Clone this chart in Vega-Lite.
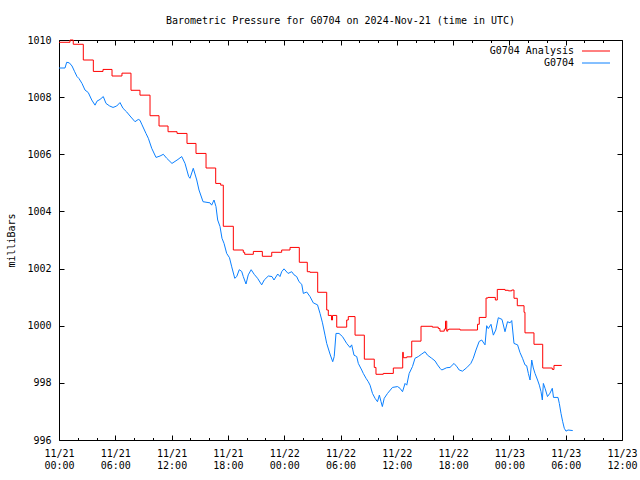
{
  "$schema": "https://vega.github.io/schema/vega-lite/v6.json",
  "width": 563,
  "height": 400,
  "autosize": {"type": "none"},
  "padding": {"left": 59, "top": 40, "right": 18, "bottom": 40},
  "background": "white",
  "config": {
    "font": "DejaVu Sans Mono",
    "view": {"stroke": "black", "strokeWidth": 1},
    "axis": {"domain": false, "grid": false, "labelFont": "DejaVu Sans Mono", "labelFontSize": 10, "labelColor": "black", "tickColor": "black", "tickWidth": 1, "titleFont": "DejaVu Sans Mono", "titleFontSize": 10, "titleFontWeight": "normal", "titleColor": "black"}
  },
  "title": {"text": "Barometric Pressure for G0704 on 2024-Nov-21 (time in UTC)", "font": "DejaVu Sans Mono", "fontSize": 10, "fontWeight": "normal", "color": "black", "anchor": "middle", "offset": 9},
  "datasets": {
    "analysis": [
      {"hour": 0, "mb": 1009.92, "series": "G0704 Analysis"},
      {"hour": 1.17, "mb": 1010.0, "series": "G0704 Analysis"},
      {"hour": 1.52, "mb": 1009.85, "series": "G0704 Analysis"},
      {"hour": 2.59, "mb": 1009.3, "series": "G0704 Analysis"},
      {"hour": 3.66, "mb": 1008.9, "series": "G0704 Analysis"},
      {"hour": 4.69, "mb": 1008.97, "series": "G0704 Analysis"},
      {"hour": 5.65, "mb": 1008.74, "series": "G0704 Analysis"},
      {"hour": 6.71, "mb": 1008.84, "series": "G0704 Analysis"},
      {"hour": 7.67, "mb": 1008.24, "series": "G0704 Analysis"},
      {"hour": 8.63, "mb": 1008.07, "series": "G0704 Analysis"},
      {"hour": 9.7, "mb": 1007.35, "series": "G0704 Analysis"},
      {"hour": 10.66, "mb": 1006.99, "series": "G0704 Analysis"},
      {"hour": 11.62, "mb": 1006.79, "series": "G0704 Analysis"},
      {"hour": 12.58, "mb": 1006.73, "series": "G0704 Analysis"},
      {"hour": 13.64, "mb": 1006.38, "series": "G0704 Analysis"},
      {"hour": 14.6, "mb": 1006.03, "series": "G0704 Analysis"},
      {"hour": 15.67, "mb": 1005.52, "series": "G0704 Analysis"},
      {"hour": 16.7, "mb": 1004.98, "series": "G0704 Analysis"},
      {"hour": 17.23, "mb": 1004.92, "series": "G0704 Analysis"},
      {"hour": 17.51, "mb": 1003.48, "series": "G0704 Analysis"},
      {"hour": 18.58, "mb": 1002.65, "series": "G0704 Analysis"},
      {"hour": 19.64, "mb": 1002.57, "series": "G0704 Analysis"},
      {"hour": 19.79, "mb": 1002.5, "series": "G0704 Analysis"},
      {"hour": 20.71, "mb": 1002.6, "series": "G0704 Analysis"},
      {"hour": 21.67, "mb": 1002.43, "series": "G0704 Analysis"},
      {"hour": 22.67, "mb": 1002.57, "series": "G0704 Analysis"},
      {"hour": 23.73, "mb": 1002.65, "series": "G0704 Analysis"},
      {"hour": 24.62, "mb": 1002.74, "series": "G0704 Analysis"},
      {"hour": 25.61, "mb": 1002.22, "series": "G0704 Analysis"},
      {"hour": 26.46, "mb": 1001.89, "series": "G0704 Analysis"},
      {"hour": 26.75, "mb": 1001.87, "series": "G0704 Analysis"},
      {"hour": 27.57, "mb": 1001.17, "series": "G0704 Analysis"},
      {"hour": 28.53, "mb": 1000.55, "series": "G0704 Analysis"},
      {"hour": 28.7, "mb": 1000.36, "series": "G0704 Analysis"},
      {"hour": 29.04, "mb": 1000.2, "series": "G0704 Analysis"},
      {"hour": 29.15, "mb": 1000.36, "series": "G0704 Analysis"},
      {"hour": 29.6, "mb": 999.95, "series": "G0704 Analysis"},
      {"hour": 30.66, "mb": 1000.2, "series": "G0704 Analysis"},
      {"hour": 30.83, "mb": 1000.32, "series": "G0704 Analysis"},
      {"hour": 31.55, "mb": 999.67, "series": "G0704 Analysis"},
      {"hour": 32.54, "mb": 998.83, "series": "G0704 Analysis"},
      {"hour": 33.6, "mb": 998.54, "series": "G0704 Analysis"},
      {"hour": 33.78, "mb": 998.3, "series": "G0704 Analysis"},
      {"hour": 34.56, "mb": 998.33, "series": "G0704 Analysis"},
      {"hour": 35.63, "mb": 998.52, "series": "G0704 Analysis"},
      {"hour": 36.63, "mb": 999.07, "series": "G0704 Analysis"},
      {"hour": 36.69, "mb": 998.88, "series": "G0704 Analysis"},
      {"hour": 37.06, "mb": 998.91, "series": "G0704 Analysis"},
      {"hour": 37.59, "mb": 999.46, "series": "G0704 Analysis"},
      {"hour": 38.58, "mb": 999.98, "series": "G0704 Analysis"},
      {"hour": 39.79, "mb": 999.95, "series": "G0704 Analysis"},
      {"hour": 40.42, "mb": 999.9, "series": "G0704 Analysis"},
      {"hour": 40.6, "mb": 999.81, "series": "G0704 Analysis"},
      {"hour": 41.06, "mb": 999.88, "series": "G0704 Analysis"},
      {"hour": 41.19, "mb": 1000.16, "series": "G0704 Analysis"},
      {"hour": 41.32, "mb": 999.81, "series": "G0704 Analysis"},
      {"hour": 41.43, "mb": 999.87, "series": "G0704 Analysis"},
      {"hour": 41.56, "mb": 999.88, "series": "G0704 Analysis"},
      {"hour": 42.74, "mb": 999.85, "series": "G0704 Analysis"},
      {"hour": 44.6, "mb": 1000.05, "series": "G0704 Analysis"},
      {"hour": 44.79, "mb": 1000.29, "series": "G0704 Analysis"},
      {"hour": 45.51, "mb": 1000.97, "series": "G0704 Analysis"},
      {"hour": 45.72, "mb": 1000.99, "series": "G0704 Analysis"},
      {"hour": 46.5, "mb": 1000.9, "series": "G0704 Analysis"},
      {"hour": 46.71, "mb": 1001.27, "series": "G0704 Analysis"},
      {"hour": 47.53, "mb": 1001.24, "series": "G0704 Analysis"},
      {"hour": 47.89, "mb": 1001.22, "series": "G0704 Analysis"},
      {"hour": 48.25, "mb": 1001.25, "series": "G0704 Analysis"},
      {"hour": 48.49, "mb": 1000.96, "series": "G0704 Analysis"},
      {"hour": 48.84, "mb": 1000.7, "series": "G0704 Analysis"},
      {"hour": 49.56, "mb": 1000.47, "series": "G0704 Analysis"},
      {"hour": 49.66, "mb": 999.75, "series": "G0704 Analysis"},
      {"hour": 50.62, "mb": 999.35, "series": "G0704 Analysis"},
      {"hour": 51.55, "mb": 998.52, "series": "G0704 Analysis"},
      {"hour": 52.57, "mb": 998.47, "series": "G0704 Analysis"},
      {"hour": 52.75, "mb": 998.61, "series": "G0704 Analysis"},
      {"hour": 53.58, "mb": 998.61, "series": "G0704 Analysis"}
    ],
    "obs": [
      {"hour": 0, "mb": 1009.02, "series": "G0704"},
      {"hour": 0.64, "mb": 1009.02, "series": "G0704"},
      {"hour": 0.82, "mb": 1009.22, "series": "G0704"},
      {"hour": 1.1, "mb": 1009.2, "series": "G0704"},
      {"hour": 1.39, "mb": 1009.09, "series": "G0704"},
      {"hour": 1.67, "mb": 1008.89, "series": "G0704"},
      {"hour": 1.92, "mb": 1008.72, "series": "G0704"},
      {"hour": 2.13, "mb": 1008.65, "series": "G0704"},
      {"hour": 2.45, "mb": 1008.48, "series": "G0704"},
      {"hour": 2.77, "mb": 1008.25, "series": "G0704"},
      {"hour": 3.12, "mb": 1008.16, "series": "G0704"},
      {"hour": 3.49, "mb": 1007.9, "series": "G0704"},
      {"hour": 3.84, "mb": 1007.72, "series": "G0704"},
      {"hour": 4.05, "mb": 1007.86, "series": "G0704"},
      {"hour": 4.37, "mb": 1007.92, "series": "G0704"},
      {"hour": 4.72, "mb": 1008.02, "series": "G0704"},
      {"hour": 5.01, "mb": 1007.78, "series": "G0704"},
      {"hour": 5.4, "mb": 1007.69, "series": "G0704"},
      {"hour": 5.76, "mb": 1007.64, "series": "G0704"},
      {"hour": 6.15, "mb": 1007.69, "series": "G0704"},
      {"hour": 6.5, "mb": 1007.81, "series": "G0704"},
      {"hour": 6.82, "mb": 1007.61, "series": "G0704"},
      {"hour": 7.22, "mb": 1007.48, "series": "G0704"},
      {"hour": 7.57, "mb": 1007.34, "series": "G0704"},
      {"hour": 8.1, "mb": 1007.14, "series": "G0704"},
      {"hour": 8.45, "mb": 1007.22, "series": "G0704"},
      {"hour": 8.63, "mb": 1007.19, "series": "G0704"},
      {"hour": 8.85, "mb": 1007.03, "series": "G0704"},
      {"hour": 9.27, "mb": 1006.73, "series": "G0704"},
      {"hour": 9.52, "mb": 1006.56, "series": "G0704"},
      {"hour": 9.88, "mb": 1006.21, "series": "G0704"},
      {"hour": 10.34, "mb": 1005.89, "series": "G0704"},
      {"hour": 10.77, "mb": 1005.94, "series": "G0704"},
      {"hour": 11.12, "mb": 1006.0, "series": "G0704"},
      {"hour": 11.48, "mb": 1005.86, "series": "G0704"},
      {"hour": 12.04, "mb": 1005.68, "series": "G0704"},
      {"hour": 12.68, "mb": 1005.82, "series": "G0704"},
      {"hour": 13.08, "mb": 1005.92, "series": "G0704"},
      {"hour": 13.43, "mb": 1005.68, "series": "G0704"},
      {"hour": 13.82, "mb": 1005.22, "series": "G0704"},
      {"hour": 13.96, "mb": 1005.16, "series": "G0704"},
      {"hour": 14.31, "mb": 1005.51, "series": "G0704"},
      {"hour": 14.68, "mb": 1005.1, "series": "G0704"},
      {"hour": 14.92, "mb": 1004.75, "series": "G0704"},
      {"hour": 15.35, "mb": 1004.34, "series": "G0704"},
      {"hour": 16.09, "mb": 1004.3, "series": "G0704"},
      {"hour": 16.27, "mb": 1004.22, "series": "G0704"},
      {"hour": 16.52, "mb": 1004.4, "series": "G0704"},
      {"hour": 16.73, "mb": 1004.17, "series": "G0704"},
      {"hour": 16.91, "mb": 1003.7, "series": "G0704"},
      {"hour": 17.16, "mb": 1003.47, "series": "G0704"},
      {"hour": 17.37, "mb": 1003.06, "series": "G0704"},
      {"hour": 17.59, "mb": 1002.88, "series": "G0704"},
      {"hour": 17.87, "mb": 1002.53, "series": "G0704"},
      {"hour": 18.17, "mb": 1002.38, "series": "G0704"},
      {"hour": 18.41, "mb": 1002.06, "series": "G0704"},
      {"hour": 18.73, "mb": 1001.66, "series": "G0704"},
      {"hour": 18.94, "mb": 1001.72, "series": "G0704"},
      {"hour": 19.21, "mb": 1001.96, "series": "G0704"},
      {"hour": 19.47, "mb": 1001.9, "series": "G0704"},
      {"hour": 19.64, "mb": 1001.72, "series": "G0704"},
      {"hour": 19.93, "mb": 1001.46, "series": "G0704"},
      {"hour": 20.17, "mb": 1001.78, "series": "G0704"},
      {"hour": 20.48, "mb": 1001.96, "series": "G0704"},
      {"hour": 20.8, "mb": 1001.8, "series": "G0704"},
      {"hour": 21.16, "mb": 1001.66, "series": "G0704"},
      {"hour": 21.6, "mb": 1001.43, "series": "G0704"},
      {"hour": 21.87, "mb": 1001.6, "series": "G0704"},
      {"hour": 22.31, "mb": 1001.74, "series": "G0704"},
      {"hour": 22.7, "mb": 1001.72, "series": "G0704"},
      {"hour": 22.91, "mb": 1001.6, "series": "G0704"},
      {"hour": 23.31, "mb": 1001.81, "series": "G0704"},
      {"hour": 23.55, "mb": 1001.72, "series": "G0704"},
      {"hour": 23.73, "mb": 1001.89, "series": "G0704"},
      {"hour": 23.98, "mb": 1001.99, "series": "G0704"},
      {"hour": 24.41, "mb": 1001.83, "series": "G0704"},
      {"hour": 24.8, "mb": 1001.89, "series": "G0704"},
      {"hour": 25.05, "mb": 1001.78, "series": "G0704"},
      {"hour": 25.33, "mb": 1001.72, "series": "G0704"},
      {"hour": 25.58, "mb": 1001.54, "series": "G0704"},
      {"hour": 25.87, "mb": 1001.45, "series": "G0704"},
      {"hour": 26.04, "mb": 1001.13, "series": "G0704"},
      {"hour": 26.4, "mb": 1001.18, "series": "G0704"},
      {"hour": 26.75, "mb": 1001.02, "series": "G0704"},
      {"hour": 27.1, "mb": 1000.8, "series": "G0704"},
      {"hour": 27.55, "mb": 1000.73, "series": "G0704"},
      {"hour": 27.82, "mb": 1000.43, "series": "G0704"},
      {"hour": 28.08, "mb": 1000.1, "series": "G0704"},
      {"hour": 28.35, "mb": 999.67, "series": "G0704"},
      {"hour": 28.53, "mb": 999.38, "series": "G0704"},
      {"hour": 28.88, "mb": 999.01, "series": "G0704"},
      {"hour": 29.17, "mb": 998.74, "series": "G0704"},
      {"hour": 29.33, "mb": 998.92, "series": "G0704"},
      {"hour": 29.52, "mb": 999.73, "series": "G0704"},
      {"hour": 29.84, "mb": 999.73, "series": "G0704"},
      {"hour": 30.21, "mb": 999.62, "series": "G0704"},
      {"hour": 30.66, "mb": 999.38, "series": "G0704"},
      {"hour": 31.01, "mb": 999.24, "series": "G0704"},
      {"hour": 31.19, "mb": 999.33, "series": "G0704"},
      {"hour": 31.44, "mb": 998.97, "series": "G0704"},
      {"hour": 31.73, "mb": 998.92, "series": "G0704"},
      {"hour": 31.9, "mb": 998.68, "series": "G0704"},
      {"hour": 32.26, "mb": 998.45, "series": "G0704"},
      {"hour": 32.43, "mb": 998.33, "series": "G0704"},
      {"hour": 32.72, "mb": 998.16, "series": "G0704"},
      {"hour": 32.96, "mb": 998.04, "series": "G0704"},
      {"hour": 33.15, "mb": 997.92, "series": "G0704"},
      {"hour": 33.41, "mb": 997.63, "series": "G0704"},
      {"hour": 33.68, "mb": 997.46, "series": "G0704"},
      {"hour": 33.94, "mb": 997.34, "series": "G0704"},
      {"hour": 34.14, "mb": 997.57, "series": "G0704"},
      {"hour": 34.32, "mb": 997.34, "series": "G0704"},
      {"hour": 34.46, "mb": 997.17, "series": "G0704"},
      {"hour": 34.66, "mb": 997.46, "series": "G0704"},
      {"hour": 35.01, "mb": 997.63, "series": "G0704"},
      {"hour": 35.54, "mb": 997.84, "series": "G0704"},
      {"hour": 36.08, "mb": 997.87, "series": "G0704"},
      {"hour": 36.34, "mb": 997.81, "series": "G0704"},
      {"hour": 36.61, "mb": 997.69, "series": "G0704"},
      {"hour": 36.88, "mb": 997.98, "series": "G0704"},
      {"hour": 37.06, "mb": 997.92, "series": "G0704"},
      {"hour": 37.32, "mb": 998.33, "series": "G0704"},
      {"hour": 37.67, "mb": 998.57, "series": "G0704"},
      {"hour": 37.94, "mb": 998.86, "series": "G0704"},
      {"hour": 38.29, "mb": 998.92, "series": "G0704"},
      {"hour": 38.66, "mb": 999.01, "series": "G0704"},
      {"hour": 39.01, "mb": 999.09, "series": "G0704"},
      {"hour": 39.27, "mb": 998.97, "series": "G0704"},
      {"hour": 39.72, "mb": 998.86, "series": "G0704"},
      {"hour": 40.07, "mb": 998.77, "series": "G0704"},
      {"hour": 40.34, "mb": 998.63, "series": "G0704"},
      {"hour": 40.61, "mb": 998.51, "series": "G0704"},
      {"hour": 40.79, "mb": 998.45, "series": "G0704"},
      {"hour": 41.32, "mb": 998.53, "series": "G0704"},
      {"hour": 41.67, "mb": 998.54, "series": "G0704"},
      {"hour": 42.1, "mb": 998.68, "series": "G0704"},
      {"hour": 42.42, "mb": 998.56, "series": "G0704"},
      {"hour": 42.65, "mb": 998.45, "series": "G0704"},
      {"hour": 43.0, "mb": 998.41, "series": "G0704"},
      {"hour": 43.45, "mb": 998.53, "series": "G0704"},
      {"hour": 43.89, "mb": 998.68, "series": "G0704"},
      {"hour": 44.15, "mb": 998.86, "series": "G0704"},
      {"hour": 44.44, "mb": 999.15, "series": "G0704"},
      {"hour": 44.78, "mb": 999.45, "series": "G0704"},
      {"hour": 45.05, "mb": 999.5, "series": "G0704"},
      {"hour": 45.4, "mb": 999.33, "series": "G0704"},
      {"hour": 45.58, "mb": 1000.0, "series": "G0704"},
      {"hour": 45.75, "mb": 999.9, "series": "G0704"},
      {"hour": 46.04, "mb": 1000.05, "series": "G0704"},
      {"hour": 46.29, "mb": 999.67, "series": "G0704"},
      {"hour": 46.55, "mb": 999.85, "series": "G0704"},
      {"hour": 46.82, "mb": 1000.28, "series": "G0704"},
      {"hour": 47.21, "mb": 1000.22, "series": "G0704"},
      {"hour": 47.53, "mb": 999.79, "series": "G0704"},
      {"hour": 47.8, "mb": 1000.14, "series": "G0704"},
      {"hour": 48.07, "mb": 1000.1, "series": "G0704"},
      {"hour": 48.25, "mb": 1000.18, "series": "G0704"},
      {"hour": 48.49, "mb": 999.38, "series": "G0704"},
      {"hour": 48.87, "mb": 999.33, "series": "G0704"},
      {"hour": 49.13, "mb": 999.06, "series": "G0704"},
      {"hour": 49.4, "mb": 998.86, "series": "G0704"},
      {"hour": 49.66, "mb": 998.63, "series": "G0704"},
      {"hour": 49.84, "mb": 998.6, "series": "G0704"},
      {"hour": 50.02, "mb": 998.33, "series": "G0704"},
      {"hour": 50.2, "mb": 998.1, "series": "G0704"},
      {"hour": 50.38, "mb": 998.8, "series": "G0704"},
      {"hour": 50.55, "mb": 998.52, "series": "G0704"},
      {"hour": 50.73, "mb": 998.33, "series": "G0704"},
      {"hour": 51.0, "mb": 998.1, "series": "G0704"},
      {"hour": 51.19, "mb": 997.92, "series": "G0704"},
      {"hour": 51.37, "mb": 997.69, "series": "G0704"},
      {"hour": 51.51, "mb": 997.4, "series": "G0704"},
      {"hour": 51.62, "mb": 997.98, "series": "G0704"},
      {"hour": 51.8, "mb": 997.81, "series": "G0704"},
      {"hour": 52.06, "mb": 997.52, "series": "G0704"},
      {"hour": 52.33, "mb": 997.64, "series": "G0704"},
      {"hour": 52.57, "mb": 997.81, "series": "G0704"},
      {"hour": 52.7, "mb": 997.49, "series": "G0704"},
      {"hour": 52.97, "mb": 997.49, "series": "G0704"},
      {"hour": 53.18, "mb": 997.49, "series": "G0704"},
      {"hour": 53.32, "mb": 997.28, "series": "G0704"},
      {"hour": 53.5, "mb": 996.93, "series": "G0704"},
      {"hour": 53.68, "mb": 996.64, "series": "G0704"},
      {"hour": 53.85, "mb": 996.41, "series": "G0704"},
      {"hour": 54.03, "mb": 996.31, "series": "G0704"},
      {"hour": 54.25, "mb": 996.35, "series": "G0704"},
      {"hour": 54.75, "mb": 996.33, "series": "G0704"}
    ]
  },
  "layer": [
    {
      "data": {"name": "analysis"},
      "mark": {"type": "line", "strokeWidth": 1, "interpolate": "step-after"},
      "encoding": {
        "x": {"field": "hour", "type": "quantitative", "scale": {"domain": [0, 60], "nice": false, "zero": false},
          "axis": {"orient": "bottom", "title": null, "values": [0,2,4,6,8,10,12,14,16,18,20,22,24,26,28,30,32,34,36,38,40,42,44,46,48,50,52,54,56,58,60],
            "tickSize": {"condition": {"test": "datum.value % 6 === 0", "value": -5}, "value": -2.5},
            "labelExpr": "datum.value % 6 === 0 ? ['11/' + (21 + floor(datum.value / 24)), (datum.value % 24 < 10 ? '0' : '') + (datum.value % 24) + ':00'] : ''",
            "labelPadding": 13, "labelBaseline": "top", "labelLineHeight": 12.5, "labelFlush": false, "labelOverlap": false, "labelBound": false}},
        "y": {"field": "mb", "type": "quantitative", "scale": {"domain": [996, 1010], "nice": false, "zero": false},
          "axis": {"orient": "left", "title": "milliBars", "format": "d", "values": [996, 998, 1000, 1002, 1004, 1006, 1008, 1010], "tickSize": -5, "labelPadding": 13, "labelOverlap": false, "labelFlush": false, "titlePadding": 10}},
        "color": {"field": "series", "type": "nominal",
          "scale": {"domain": ["G0704 Analysis", "G0704"], "range": ["#ff0000", "#0a80ff"]},
          "legend": {"orient": "none", "legendX": 532, "legendY": 6, "title": null, "symbolType": "M-4,0H4", "symbolSize": 49, "symbolStrokeWidth": 1, "labelAlign": "right", "labelOffset": -27, "labelFont": "DejaVu Sans Mono", "labelFontSize": 10, "labelColor": "black", "rowPadding": 2, "padding": 0}}
      }
    },
    {
      "data": {"name": "obs"},
      "mark": {"type": "line", "strokeWidth": 1},
      "encoding": {
        "x": {"field": "hour", "type": "quantitative",
          "axis": {"orient": "top", "title": null, "values": [0,2,4,6,8,10,12,14,16,18,20,22,24,26,28,30,32,34,36,38,40,42,44,46,48,50,52,54,56,58,60],
            "tickSize": {"condition": {"test": "datum.value % 6 === 0", "value": -5}, "value": -2.5}, "labels": false}},
        "y": {"field": "mb", "type": "quantitative",
          "axis": {"orient": "right", "title": null, "values": [996, 998, 1000, 1002, 1004, 1006, 1008, 1010], "tickSize": -5, "labels": false}},
        "color": {"field": "series", "type": "nominal"}
      }
    }
  ],
  "resolve": {"axis": {"x": "independent", "y": "independent"}}
}
